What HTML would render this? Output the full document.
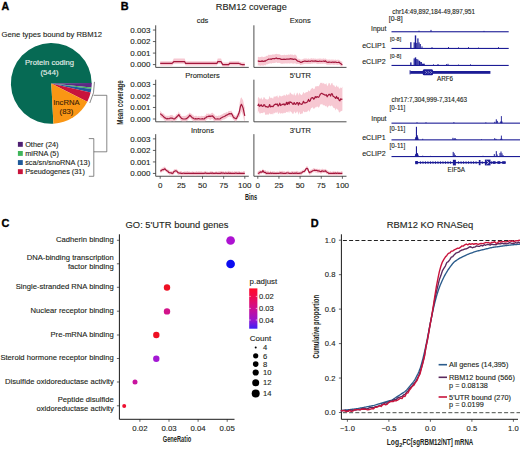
<!DOCTYPE html>
<html><head><meta charset="utf-8"><style>
html,body{margin:0;padding:0;background:#fff;width:520px;height:449px;overflow:hidden}
svg{display:block;font-family:"Liberation Sans", sans-serif}
</style></head><body>
<svg width="520" height="449" viewBox="0 0 520 449">
<rect width="520" height="449" fill="#fff"/>
<text x="1.50" y="9.80" font-size="10.6" text-anchor="start" fill="#000" font-weight="bold" stroke="#000" stroke-width="0.35">A</text>
<text x="1.60" y="36.80" font-size="7.66" text-anchor="start" fill="#231f20" font-weight="normal" stroke="#231f20" stroke-width="0.12" >Gene types bound by RBM12</text>
<path d="M51.3,83.4 L53.41,123.74 A40.4,40.4 0 1 1 91.70,83.40 Z" fill="#066a54"/>
<path d="M51.3,83.4 L91.70,83.05 A40.4,40.4 0 0 1 91.48,87.62 Z" fill="#5c2a84"/>
<path d="M51.3,83.4 L91.48,87.62 A40.4,40.4 0 0 1 91.31,89.02 Z" fill="#3fb55a"/>
<path d="M51.3,83.4 L91.31,89.02 A40.4,40.4 0 0 1 90.66,92.49 Z" fill="#1f5a9a"/>
<path d="M51.3,83.4 L90.66,92.49 A40.4,40.4 0 0 1 87.30,101.74 Z" fill="#c8143c"/>
<path d="M51.3,83.4 L87.30,101.74 A40.4,40.4 0 0 1 53.41,123.74 Z" fill="#fa9614"/>
<text x="49.50" y="65.00" font-size="7.67" text-anchor="middle" fill="#e8f0ec" font-weight="normal" stroke="#e8f0ec" stroke-width="0.12" >Protein coding</text>
<text x="49.50" y="75.00" font-size="7.67" text-anchor="middle" fill="#e8f0ec" font-weight="normal" stroke="#e8f0ec" stroke-width="0.12" >(544)</text>
<text x="66.60" y="104.80" font-size="7.67" text-anchor="middle" fill="#3b2208" font-weight="normal" stroke="#3b2208" stroke-width="0.12" >lncRNA</text>
<text x="66.40" y="114.40" font-size="7.67" text-anchor="middle" fill="#3b2208" font-weight="normal" stroke="#3b2208" stroke-width="0.12" >(83)</text>
<path d="M94.47,81.89 A43.199999999999996,43.199999999999996 0 0 1 89.79,103.01" fill="none" stroke="#555" stroke-width="0.7"/>
<path d="M93.6,95.3 H106.8 V151.8 H93.8" fill="none" stroke="#555" stroke-width="0.7"/>
<path d="M88.8,138.6 H93.8 V176.3 H88.8" fill="none" stroke="#555" stroke-width="0.7"/>
<rect x="17.9" y="141.90" width="4.9" height="4.9" fill="#4e1f72"/>
<text x="25.20" y="146.90" font-size="7.3" text-anchor="start" fill="#231f20" font-weight="normal" stroke="#231f20" stroke-width="0.12" >Other (24)</text>
<rect x="17.9" y="151.00" width="4.9" height="4.9" fill="#3fb55a"/>
<text x="25.20" y="156.00" font-size="7.3" text-anchor="start" fill="#231f20" font-weight="normal" stroke="#231f20" stroke-width="0.12" >miRNA (5)</text>
<rect x="17.9" y="160.10" width="4.9" height="4.9" fill="#1f5a9a"/>
<text x="25.20" y="165.10" font-size="7.3" text-anchor="start" fill="#231f20" font-weight="normal" stroke="#231f20" stroke-width="0.12" >sca/sn/snoRNA (13)</text>
<rect x="17.9" y="169.20" width="4.9" height="4.9" fill="#c8143c"/>
<text x="25.20" y="174.20" font-size="7.3" text-anchor="start" fill="#231f20" font-weight="normal" stroke="#231f20" stroke-width="0.12" >Pseudogenes (31)</text>
<text x="120.80" y="10.20" font-size="10.9" text-anchor="start" fill="#000" font-weight="bold" stroke="#000" stroke-width="0.35">B</text>
<text x="251.30" y="9.90" font-size="9.2" text-anchor="middle" fill="#231f20" font-weight="normal" stroke="#231f20" stroke-width="0.12" >RBM12 coverage</text>
<text x="202.50" y="22.80" font-size="7.5" text-anchor="middle" fill="#231f20" font-weight="normal" stroke="#231f20" stroke-width="0.12" >cds</text>
<path d="M155.7,25.299999999999997 V67.39999999999999 H248.8" fill="none" stroke="#3a3a3a" stroke-width="0.9"/>
<path d="M152.89999999999998,64.60 H155.7" stroke="#3a3a3a" stroke-width="0.8"/>
<text x="150.40" y="67.45" font-size="8.0" text-anchor="end" fill="#231f20" font-weight="normal" stroke="#231f20" stroke-width="0.12" >0.000</text>
<path d="M152.89999999999998,53.08 H155.7" stroke="#3a3a3a" stroke-width="0.8"/>
<text x="150.40" y="55.93" font-size="8.0" text-anchor="end" fill="#231f20" font-weight="normal" stroke="#231f20" stroke-width="0.12" >0.001</text>
<path d="M152.89999999999998,41.56 H155.7" stroke="#3a3a3a" stroke-width="0.8"/>
<text x="150.40" y="44.41" font-size="8.0" text-anchor="end" fill="#231f20" font-weight="normal" stroke="#231f20" stroke-width="0.12" >0.002</text>
<path d="M152.89999999999998,30.04 H155.7" stroke="#3a3a3a" stroke-width="0.8"/>
<text x="150.40" y="32.89" font-size="8.0" text-anchor="end" fill="#231f20" font-weight="normal" stroke="#231f20" stroke-width="0.12" >0.003</text>
<text x="300.30" y="22.80" font-size="7.5" text-anchor="middle" fill="#231f20" font-weight="normal" stroke="#231f20" stroke-width="0.12" >Exons</text>
<path d="M253.9,25.299999999999997 V67.39999999999999 H346.5" fill="none" stroke="#3a3a3a" stroke-width="0.9"/>
<text x="202.50" y="78.00" font-size="7.5" text-anchor="middle" fill="#231f20" font-weight="normal" stroke="#231f20" stroke-width="0.12" >Promoters</text>
<path d="M155.7,79.7 V121.8 H248.8" fill="none" stroke="#3a3a3a" stroke-width="0.9"/>
<path d="M152.89999999999998,119.00 H155.7" stroke="#3a3a3a" stroke-width="0.8"/>
<text x="150.40" y="121.85" font-size="8.0" text-anchor="end" fill="#231f20" font-weight="normal" stroke="#231f20" stroke-width="0.12" >0.000</text>
<path d="M152.89999999999998,107.48 H155.7" stroke="#3a3a3a" stroke-width="0.8"/>
<text x="150.40" y="110.33" font-size="8.0" text-anchor="end" fill="#231f20" font-weight="normal" stroke="#231f20" stroke-width="0.12" >0.001</text>
<path d="M152.89999999999998,95.96 H155.7" stroke="#3a3a3a" stroke-width="0.8"/>
<text x="150.40" y="98.81" font-size="8.0" text-anchor="end" fill="#231f20" font-weight="normal" stroke="#231f20" stroke-width="0.12" >0.002</text>
<path d="M152.89999999999998,84.44 H155.7" stroke="#3a3a3a" stroke-width="0.8"/>
<text x="150.40" y="87.29" font-size="8.0" text-anchor="end" fill="#231f20" font-weight="normal" stroke="#231f20" stroke-width="0.12" >0.003</text>
<text x="300.30" y="78.00" font-size="7.5" text-anchor="middle" fill="#231f20" font-weight="normal" stroke="#231f20" stroke-width="0.12" >5’UTR</text>
<path d="M253.9,79.7 V121.8 H346.5" fill="none" stroke="#3a3a3a" stroke-width="0.9"/>
<text x="202.50" y="133.20" font-size="7.5" text-anchor="middle" fill="#231f20" font-weight="normal" stroke="#231f20" stroke-width="0.12" >Introns</text>
<path d="M155.7,134.14999999999998 V176.25 H248.8" fill="none" stroke="#3a3a3a" stroke-width="0.9"/>
<path d="M152.89999999999998,173.45 H155.7" stroke="#3a3a3a" stroke-width="0.8"/>
<text x="150.40" y="176.30" font-size="8.0" text-anchor="end" fill="#231f20" font-weight="normal" stroke="#231f20" stroke-width="0.12" >0.000</text>
<path d="M152.89999999999998,161.93 H155.7" stroke="#3a3a3a" stroke-width="0.8"/>
<text x="150.40" y="164.78" font-size="8.0" text-anchor="end" fill="#231f20" font-weight="normal" stroke="#231f20" stroke-width="0.12" >0.001</text>
<path d="M152.89999999999998,150.41 H155.7" stroke="#3a3a3a" stroke-width="0.8"/>
<text x="150.40" y="153.26" font-size="8.0" text-anchor="end" fill="#231f20" font-weight="normal" stroke="#231f20" stroke-width="0.12" >0.002</text>
<path d="M152.89999999999998,138.89 H155.7" stroke="#3a3a3a" stroke-width="0.8"/>
<text x="150.40" y="141.74" font-size="8.0" text-anchor="end" fill="#231f20" font-weight="normal" stroke="#231f20" stroke-width="0.12" >0.003</text>
<path d="M160.20,176.25 V178.75" stroke="#3a3a3a" stroke-width="0.8"/>
<text x="160.20" y="188.00" font-size="8.0" text-anchor="middle" fill="#231f20" font-weight="normal" stroke="#231f20" stroke-width="0.12" >0</text>
<path d="M181.35,176.25 V178.75" stroke="#3a3a3a" stroke-width="0.8"/>
<text x="181.35" y="188.00" font-size="8.0" text-anchor="middle" fill="#231f20" font-weight="normal" stroke="#231f20" stroke-width="0.12" >25</text>
<path d="M202.50,176.25 V178.75" stroke="#3a3a3a" stroke-width="0.8"/>
<text x="202.50" y="188.00" font-size="8.0" text-anchor="middle" fill="#231f20" font-weight="normal" stroke="#231f20" stroke-width="0.12" >50</text>
<path d="M223.65,176.25 V178.75" stroke="#3a3a3a" stroke-width="0.8"/>
<text x="223.65" y="188.00" font-size="8.0" text-anchor="middle" fill="#231f20" font-weight="normal" stroke="#231f20" stroke-width="0.12" >75</text>
<path d="M244.80,176.25 V178.75" stroke="#3a3a3a" stroke-width="0.8"/>
<text x="244.80" y="188.00" font-size="8.0" text-anchor="middle" fill="#231f20" font-weight="normal" stroke="#231f20" stroke-width="0.12" >100</text>
<text x="300.30" y="133.20" font-size="7.5" text-anchor="middle" fill="#231f20" font-weight="normal" stroke="#231f20" stroke-width="0.12" >3’UTR</text>
<path d="M253.9,134.14999999999998 V176.25 H346.5" fill="none" stroke="#3a3a3a" stroke-width="0.9"/>
<path d="M257.80,176.25 V178.75" stroke="#3a3a3a" stroke-width="0.8"/>
<text x="257.80" y="188.00" font-size="8.0" text-anchor="middle" fill="#231f20" font-weight="normal" stroke="#231f20" stroke-width="0.12" >0</text>
<path d="M278.95,176.25 V178.75" stroke="#3a3a3a" stroke-width="0.8"/>
<text x="278.95" y="188.00" font-size="8.0" text-anchor="middle" fill="#231f20" font-weight="normal" stroke="#231f20" stroke-width="0.12" >25</text>
<path d="M300.10,176.25 V178.75" stroke="#3a3a3a" stroke-width="0.8"/>
<text x="300.10" y="188.00" font-size="8.0" text-anchor="middle" fill="#231f20" font-weight="normal" stroke="#231f20" stroke-width="0.12" >50</text>
<path d="M321.25,176.25 V178.75" stroke="#3a3a3a" stroke-width="0.8"/>
<text x="321.25" y="188.00" font-size="8.0" text-anchor="middle" fill="#231f20" font-weight="normal" stroke="#231f20" stroke-width="0.12" >75</text>
<path d="M342.40,176.25 V178.75" stroke="#3a3a3a" stroke-width="0.8"/>
<text x="342.40" y="188.00" font-size="8.0" text-anchor="middle" fill="#231f20" font-weight="normal" stroke="#231f20" stroke-width="0.12" >100</text>
<text transform="translate(122.7,102.5) rotate(-90)" font-size="9.0" font-weight="bold" text-anchor="middle" fill="#231f20" textLength="44.5" lengthAdjust="spacingAndGlyphs">Mean coverage</text>
<text transform="translate(251.0,199.6)" font-size="9.0" font-weight="bold" text-anchor="middle" fill="#231f20" textLength="12.2" lengthAdjust="spacingAndGlyphs">Bins</text>
<polygon points="160.20,61.37 161.05,61.37 161.89,61.37 162.74,61.37 163.58,61.37 164.43,61.37 165.28,61.37 166.12,61.37 166.97,61.37 167.81,61.37 168.66,61.37 169.51,61.37 170.35,61.37 171.20,61.37 172.04,61.37 172.89,60.51 173.74,58.49 174.58,58.49 175.43,58.49 176.27,58.49 177.12,58.49 177.97,58.49 178.81,58.49 179.66,58.49 180.50,58.49 181.35,58.49 182.20,58.49 183.04,58.49 183.89,58.49 184.73,58.49 185.58,61.37 186.43,61.37 187.27,61.37 188.12,61.37 188.96,61.37 189.81,61.37 190.66,61.37 191.50,61.37 192.35,61.37 193.19,61.37 194.04,61.37 194.89,61.37 195.73,61.37 196.58,61.37 197.42,61.37 198.27,61.37 199.12,61.37 199.96,61.37 200.81,61.37 201.65,61.37 202.50,61.37 203.35,61.37 204.19,61.37 205.04,61.37 205.88,61.37 206.73,61.37 207.58,61.37 208.42,61.37 209.27,61.37 210.11,61.37 210.96,61.37 211.81,61.37 212.65,61.37 213.50,61.37 214.34,61.37 215.19,61.37 216.04,61.37 216.88,61.37 217.73,58.49 218.57,58.49 219.42,58.49 220.27,58.49 221.11,58.49 221.96,61.37 222.80,62.53 223.65,62.53 224.50,62.53 225.34,62.53 226.19,62.53 227.03,62.53 227.88,62.53 228.73,62.53 229.57,61.37 230.42,61.37 231.26,61.37 232.11,61.37 232.96,61.37 233.80,61.37 234.65,61.37 235.49,61.37 236.34,61.37 237.19,61.37 238.03,61.37 238.88,61.37 239.72,61.72 240.57,62.07 241.42,62.41 242.26,62.53 243.11,62.53 243.95,62.53 244.80,62.53 244.80,66.67 243.95,66.67 243.11,66.67 242.26,66.67 241.42,66.56 240.57,66.21 239.72,65.87 238.88,65.52 238.03,65.52 237.19,65.52 236.34,65.52 235.49,65.52 234.65,65.52 233.80,65.52 232.96,65.52 232.11,65.52 231.26,65.52 230.42,65.52 229.57,65.52 228.73,66.67 227.88,66.67 227.03,66.67 226.19,66.67 225.34,66.67 224.50,66.67 223.65,66.67 222.80,66.67 221.96,65.52 221.11,63.79 220.27,63.79 219.42,63.79 218.57,63.79 217.73,63.79 216.88,65.52 216.04,65.52 215.19,65.52 214.34,65.52 213.50,65.52 212.65,65.52 211.81,65.52 210.96,65.52 210.11,65.52 209.27,65.52 208.42,65.52 207.58,65.52 206.73,65.52 205.88,65.52 205.04,65.52 204.19,65.52 203.35,65.52 202.50,65.52 201.65,65.52 200.81,65.52 199.96,65.52 199.12,65.52 198.27,65.52 197.42,65.52 196.58,65.52 195.73,65.52 194.89,65.52 194.04,65.52 193.19,65.52 192.35,65.52 191.50,65.52 190.66,65.52 189.81,65.52 188.96,65.52 188.12,65.52 187.27,65.52 186.43,65.52 185.58,65.52 184.73,63.79 183.89,63.79 183.04,63.79 182.20,63.79 181.35,63.79 180.50,63.79 179.66,63.79 178.81,63.79 177.97,63.79 177.12,63.79 176.27,63.79 175.43,63.79 174.58,63.79 173.74,63.79 172.89,64.66 172.04,65.52 171.20,65.52 170.35,65.52 169.51,65.52 168.66,65.52 167.81,65.52 166.97,65.52 166.12,65.52 165.28,65.52 164.43,65.52 163.58,65.52 162.74,65.52 161.89,65.52 161.05,65.52 160.20,65.52" fill="#f7c8d2"/>
<polyline points="160.20,63.45 161.05,63.45 161.89,63.45 162.74,63.45 163.58,63.45 164.43,63.45 165.28,63.45 166.12,63.45 166.97,63.45 167.81,63.45 168.66,63.45 169.51,63.45 170.35,63.45 171.20,63.45 172.04,63.45 172.89,62.58 173.74,61.72 174.58,61.72 175.43,61.72 176.27,61.72 177.12,61.72 177.97,61.72 178.81,61.72 179.66,61.72 180.50,61.72 181.35,61.72 182.20,61.72 183.04,61.72 183.89,61.72 184.73,61.72 185.58,63.45 186.43,63.45 187.27,63.45 188.12,63.45 188.96,63.45 189.81,63.45 190.66,63.45 191.50,63.45 192.35,63.45 193.19,63.45 194.04,63.45 194.89,63.45 195.73,63.45 196.58,63.45 197.42,63.45 198.27,63.45 199.12,63.45 199.96,63.45 200.81,63.45 201.65,63.45 202.50,63.45 203.35,63.45 204.19,63.45 205.04,63.45 205.88,63.45 206.73,63.45 207.58,63.45 208.42,63.45 209.27,63.45 210.11,63.45 210.96,63.45 211.81,63.45 212.65,63.45 213.50,63.45 214.34,63.45 215.19,63.45 216.04,63.45 216.88,63.45 217.73,61.72 218.57,61.72 219.42,61.72 220.27,61.72 221.11,61.72 221.96,63.45 222.80,64.60 223.65,64.60 224.50,64.60 225.34,64.60 226.19,64.60 227.03,64.60 227.88,64.60 228.73,64.60 229.57,63.45 230.42,63.45 231.26,63.45 232.11,63.45 232.96,63.45 233.80,63.45 234.65,63.45 235.49,63.45 236.34,63.45 237.19,63.45 238.03,63.45 238.88,63.45 239.72,63.79 240.57,64.14 241.42,64.48 242.26,64.60 243.11,64.60 243.95,64.60 244.80,64.60" fill="none" stroke="#a3173c" stroke-width="1.2" stroke-linejoin="round"/>
<polygon points="257.80,57.25 258.65,56.77 259.49,57.32 260.34,56.99 261.18,56.89 262.03,56.33 262.88,57.19 263.72,56.94 264.57,56.70 265.41,56.78 266.26,55.76 267.11,55.91 267.95,55.44 268.80,54.59 269.64,55.03 270.49,54.72 271.34,54.99 272.18,54.30 273.03,54.73 273.87,54.27 274.72,54.51 275.57,53.91 276.41,53.81 277.26,54.34 278.10,54.09 278.95,54.39 279.80,54.27 280.64,55.06 281.49,55.16 282.33,55.03 283.18,55.24 284.03,54.63 284.87,54.79 285.72,55.20 286.56,54.63 287.41,54.91 288.26,54.56 289.10,54.73 289.95,54.64 290.79,54.17 291.64,54.66 292.49,54.42 293.33,55.22 294.18,54.65 295.02,54.57 295.87,54.88 296.72,55.93 297.56,58.79 298.41,58.69 299.25,58.82 300.10,59.36 300.95,59.65 301.79,59.49 302.64,59.22 303.48,58.84 304.33,58.52 305.18,58.59 306.02,58.54 306.87,58.62 307.71,58.98 308.56,58.24 309.41,58.89 310.25,58.83 311.10,58.29 311.94,58.18 312.79,58.66 313.64,58.33 314.48,58.64 315.33,58.42 316.17,58.68 317.02,58.96 317.87,58.62 318.71,58.74 319.56,58.54 320.40,58.50 321.25,58.86 322.10,58.78 322.94,58.74 323.79,58.15 324.63,59.06 325.48,58.21 326.33,59.29 327.17,59.48 328.02,59.81 328.86,59.57 329.71,59.54 330.56,59.64 331.40,59.56 332.25,59.64 333.09,59.26 333.94,60.00 334.79,59.67 335.63,59.62 336.48,59.95 337.32,59.73 338.17,59.76 339.02,59.74 339.86,60.53 340.71,60.97 341.55,61.62 342.40,61.83 342.40,66.90 341.55,66.76 340.71,65.88 339.86,65.26 339.02,64.55 338.17,65.02 337.32,64.89 336.48,64.74 335.63,64.39 334.79,64.70 333.94,64.75 333.09,64.80 332.25,64.57 331.40,64.61 330.56,64.69 329.71,64.72 328.86,64.67 328.02,64.84 327.17,64.74 326.33,64.45 325.48,63.63 324.63,63.80 323.79,63.49 322.94,64.01 322.10,63.81 321.25,63.85 320.40,63.90 319.56,63.71 318.71,64.09 317.87,64.05 317.02,63.90 316.17,63.48 315.33,63.32 314.48,63.55 313.64,63.33 312.79,63.65 311.94,63.41 311.10,63.75 310.25,63.88 309.41,64.07 308.56,63.93 307.71,64.12 306.87,63.81 306.02,64.09 305.18,63.71 304.33,64.02 303.48,64.17 302.64,64.42 301.79,64.51 300.95,65.05 300.10,64.88 299.25,63.82 298.41,64.12 297.56,63.77 296.72,64.35 295.87,63.46 295.02,63.40 294.18,63.18 293.33,63.79 292.49,63.40 291.64,63.17 290.79,63.14 289.95,63.42 289.10,63.56 288.26,63.33 287.41,63.56 286.56,63.52 285.72,63.34 284.87,63.68 284.03,63.31 283.18,63.63 282.33,63.78 281.49,63.66 280.64,63.58 279.80,63.09 278.95,62.69 278.10,63.12 277.26,63.09 276.41,62.27 275.57,62.75 274.72,63.00 273.87,62.93 273.03,63.36 272.18,63.12 271.34,63.72 270.49,63.30 269.64,63.49 268.80,63.68 267.95,64.07 267.11,64.48 266.26,64.26 265.41,65.54 264.57,65.08 263.72,65.62 262.88,65.73 262.03,65.22 261.18,65.56 260.34,65.69 259.49,65.58 258.65,65.33 257.80,65.85" fill="#f7c8d2"/>
<polyline points="257.80,61.39 258.65,60.95 259.49,61.46 260.34,61.43 261.18,61.42 262.03,60.88 262.88,61.37 263.72,61.47 264.57,60.91 265.41,61.06 266.26,60.22 267.11,59.99 267.95,59.53 268.80,59.10 269.64,59.23 270.49,58.95 271.34,59.35 272.18,58.72 273.03,58.77 273.87,58.50 274.72,58.79 275.57,58.22 276.41,57.96 277.26,58.71 278.10,58.67 278.95,58.65 279.80,58.61 280.64,59.16 281.49,59.35 282.33,59.44 283.18,59.34 284.03,59.17 284.87,59.35 285.72,59.29 286.56,59.20 287.41,59.16 288.26,59.04 289.10,59.20 289.95,58.84 290.79,58.60 291.64,59.06 292.49,58.92 293.33,59.40 294.18,59.12 295.02,59.16 295.87,59.30 296.72,60.27 297.56,61.16 298.41,61.28 299.25,61.33 300.10,62.08 300.95,62.34 301.79,62.12 302.64,61.62 303.48,61.52 304.33,61.18 305.18,60.99 306.02,61.36 306.87,61.30 307.71,61.35 308.56,61.08 309.41,61.27 310.25,61.33 311.10,61.01 311.94,60.83 312.79,61.29 313.64,61.00 314.48,61.20 315.33,60.90 316.17,61.09 317.02,61.30 317.87,61.34 318.71,61.47 319.56,61.16 320.40,61.23 321.25,61.37 322.10,61.24 322.94,61.27 323.79,60.95 324.63,61.39 325.48,60.80 326.33,61.73 327.17,62.23 328.02,62.32 328.86,62.06 329.71,62.07 330.56,62.26 331.40,62.31 332.25,62.14 333.09,62.05 333.94,62.36 334.79,62.13 335.63,61.98 336.48,62.32 337.32,62.48 338.17,62.48 339.02,62.15 339.86,62.94 340.71,63.51 341.55,64.36 342.40,64.60" fill="none" stroke="#a3173c" stroke-width="1.2" stroke-linejoin="round"/>
<polygon points="160.20,110.49 161.05,111.85 161.89,112.64 162.74,113.42 163.58,113.51 164.43,114.60 165.28,115.60 166.12,115.93 166.97,115.58 167.81,115.89 168.66,115.78 169.51,115.80 170.35,114.89 171.20,115.08 172.04,114.84 172.89,115.61 173.74,116.45 174.58,116.49 175.43,115.64 176.27,114.29 177.12,113.95 177.97,113.47 178.81,111.25 179.66,113.58 180.50,113.82 181.35,115.75 182.20,115.94 183.04,116.35 183.89,115.74 184.73,115.99 185.58,115.83 186.43,115.49 187.27,114.62 188.12,114.62 188.96,113.30 189.81,112.43 190.66,113.57 191.50,113.63 192.35,114.71 193.19,114.84 194.04,116.18 194.89,116.07 195.73,115.83 196.58,115.86 197.42,116.40 198.27,116.01 199.12,115.83 199.96,116.61 200.81,116.06 201.65,115.78 202.50,115.90 203.35,115.95 204.19,116.00 205.04,115.44 205.88,115.02 206.73,113.32 207.58,114.04 208.42,113.61 209.27,113.75 210.11,114.04 210.96,113.62 211.81,112.66 212.65,112.75 213.50,113.73 214.34,114.31 215.19,115.99 216.04,115.62 216.88,116.08 217.73,116.02 218.57,115.60 219.42,115.66 220.27,115.37 221.11,115.06 221.96,114.35 222.80,114.24 223.65,113.32 224.50,112.88 225.34,113.37 226.19,111.79 227.03,112.67 227.88,112.00 228.73,110.79 229.57,111.05 230.42,110.90 231.26,110.38 232.11,112.19 232.96,113.05 233.80,114.96 234.65,115.17 235.49,115.95 236.34,115.57 237.19,113.75 238.03,112.64 238.88,110.91 239.72,102.59 240.57,98.55 241.42,97.28 242.26,98.94 243.11,100.33 243.95,104.41 244.80,107.80 244.80,121.30 243.95,120.15 243.11,116.07 242.26,113.53 241.42,111.62 240.57,113.62 239.72,116.88 238.88,116.68 238.03,118.40 237.19,119.55 236.34,121.30 235.49,121.30 234.65,120.94 233.80,119.93 232.96,119.22 232.11,117.92 231.26,116.68 230.42,117.09 229.57,116.47 228.73,116.83 227.88,117.08 227.03,117.67 226.19,118.58 225.34,118.84 224.50,119.47 223.65,119.60 222.80,119.72 221.96,120.32 221.11,120.86 220.27,121.30 219.42,121.30 218.57,121.30 217.73,121.30 216.88,121.30 216.04,121.30 215.19,121.30 214.34,120.99 213.50,120.42 212.65,118.96 211.81,118.88 210.96,119.47 210.11,119.93 209.27,119.20 208.42,118.73 207.58,119.23 206.73,119.40 205.88,120.67 205.04,121.25 204.19,121.30 203.35,121.30 202.50,121.30 201.65,121.30 200.81,121.30 199.96,121.30 199.12,121.30 198.27,121.30 197.42,121.30 196.58,121.30 195.73,121.03 194.89,121.30 194.04,121.30 193.19,121.30 192.35,120.28 191.50,119.56 190.66,118.41 189.81,118.18 188.96,118.66 188.12,120.02 187.27,120.73 186.43,120.99 185.58,121.30 184.73,121.30 183.89,121.30 183.04,121.30 182.20,121.30 181.35,120.99 180.50,120.35 179.66,118.65 178.81,117.03 177.97,118.29 177.12,119.30 176.27,120.46 175.43,120.49 174.58,121.30 173.74,121.30 172.89,121.11 172.04,120.70 171.20,121.30 170.35,121.30 169.51,121.30 168.66,121.30 167.81,121.30 166.97,121.30 166.12,121.30 165.28,120.82 164.43,120.42 163.58,119.22 162.74,118.39 161.89,117.74 161.05,117.75 160.20,116.98" fill="#f7c8d2"/>
<polyline points="160.20,113.54 161.05,114.43 161.89,115.00 162.74,115.90 163.58,116.56 164.43,117.58 165.28,117.91 166.12,118.50 166.97,119.00 167.81,118.45 168.66,118.73 169.51,118.59 170.35,118.10 171.20,118.08 172.04,118.05 172.89,118.53 173.74,118.97 174.58,119.00 175.43,118.04 176.27,117.54 177.12,116.38 177.97,115.80 178.81,114.67 179.66,116.11 180.50,117.16 181.35,118.15 182.20,118.78 183.04,118.91 183.89,119.00 184.73,119.00 185.58,118.87 186.43,118.68 187.27,117.93 188.12,117.33 188.96,116.30 189.81,115.25 190.66,116.00 191.50,116.90 192.35,117.70 193.19,118.09 194.04,118.72 194.89,119.00 195.73,118.67 196.58,119.00 197.42,118.79 198.27,118.71 199.12,118.70 199.96,119.00 200.81,119.00 201.65,118.93 202.50,118.69 203.35,119.00 204.19,119.00 205.04,117.99 205.88,117.73 206.73,116.77 207.58,116.73 208.42,116.41 209.27,116.15 210.11,116.59 210.96,116.12 211.81,116.04 212.65,115.89 213.50,117.04 214.34,117.75 215.19,119.00 216.04,119.00 216.88,119.00 217.73,118.81 218.57,119.00 219.42,119.00 220.27,118.77 221.11,117.93 221.96,117.54 222.80,117.01 223.65,116.77 224.50,116.24 225.34,116.01 226.19,115.17 227.03,115.18 227.88,114.41 228.73,113.93 229.57,113.69 230.42,113.81 231.26,113.42 232.11,114.54 232.96,116.21 233.80,117.59 234.65,117.97 235.49,118.65 236.34,118.73 237.19,116.92 238.03,115.27 238.88,113.33 239.72,109.85 240.57,105.94 241.42,104.29 242.26,106.03 243.11,108.12 243.95,112.13 244.80,115.83" fill="none" stroke="#a3173c" stroke-width="1.2" stroke-linejoin="round"/>
<polygon points="257.80,98.50 258.65,96.84 259.49,98.54 260.34,99.21 261.18,97.28 262.03,98.93 262.88,99.64 263.72,97.04 264.57,97.61 265.41,99.09 266.26,99.18 267.11,99.42 267.95,99.61 268.80,98.70 269.64,95.86 270.49,98.27 271.34,97.82 272.18,97.79 273.03,98.91 273.87,96.32 274.72,96.78 275.57,96.61 276.41,96.37 277.26,95.29 278.10,98.05 278.95,96.60 279.80,95.19 280.64,96.31 281.49,96.49 282.33,95.69 283.18,96.03 284.03,94.50 284.87,95.53 285.72,95.64 286.56,93.63 287.41,95.42 288.26,94.10 289.10,95.33 289.95,92.19 290.79,93.03 291.64,94.18 292.49,94.27 293.33,95.40 294.18,92.49 295.02,95.23 295.87,95.53 296.72,93.27 297.56,92.61 298.41,95.75 299.25,92.54 300.10,94.06 300.95,94.69 301.79,95.17 302.64,93.64 303.48,91.78 304.33,93.39 305.18,92.93 306.02,92.11 306.87,92.27 307.71,92.01 308.56,89.94 309.41,91.60 310.25,90.47 311.10,88.84 311.94,88.39 312.79,87.63 313.64,89.33 314.48,89.08 315.33,86.16 316.17,86.39 317.02,86.06 317.87,86.17 318.71,86.20 319.56,84.66 320.40,82.80 321.25,82.90 322.10,82.45 322.94,84.05 323.79,82.87 324.63,84.34 325.48,84.25 326.33,83.05 327.17,86.18 328.02,85.02 328.86,82.75 329.71,83.13 330.56,85.63 331.40,83.33 332.25,82.87 333.09,85.85 333.94,84.69 334.79,86.51 335.63,87.30 336.48,85.07 337.32,86.96 338.17,86.16 339.02,88.25 339.86,88.81 340.71,87.17 341.55,88.31 342.40,86.57 342.40,110.46 341.55,111.10 340.71,111.35 339.86,112.16 339.02,112.56 338.17,109.74 337.32,109.57 336.48,108.17 335.63,110.48 334.79,108.35 333.94,108.09 333.09,107.59 332.25,105.74 331.40,105.42 330.56,106.47 329.71,105.44 328.86,105.67 328.02,106.70 327.17,107.84 326.33,105.41 325.48,106.42 324.63,105.25 323.79,105.30 322.94,105.18 322.10,103.68 321.25,104.45 320.40,104.29 319.56,106.49 318.71,107.70 317.87,107.04 317.02,106.30 316.17,107.60 315.33,107.23 314.48,108.43 313.64,109.01 312.79,107.15 311.94,107.77 311.10,108.25 310.25,110.02 309.41,111.98 308.56,109.99 307.71,111.04 306.87,112.16 306.02,111.61 305.18,112.21 304.33,112.14 303.48,110.80 302.64,113.65 301.79,113.36 300.95,114.31 300.10,113.99 299.25,111.60 298.41,115.09 297.56,111.48 296.72,111.67 295.87,113.46 295.02,112.70 294.18,111.17 293.33,113.88 292.49,113.68 291.64,112.22 290.79,111.97 289.95,110.44 289.10,113.22 288.26,111.13 287.41,112.61 286.56,111.76 285.72,112.78 284.87,113.21 284.03,112.46 283.18,113.53 282.33,113.56 281.49,113.01 280.64,114.07 279.80,112.23 278.95,113.50 278.10,113.93 277.26,111.49 276.41,112.92 275.57,112.33 274.72,113.38 273.87,112.48 273.03,114.84 272.18,113.62 271.34,114.13 270.49,114.29 269.64,113.05 268.80,114.62 267.95,114.73 267.11,114.23 266.26,114.85 265.41,115.01 264.57,112.30 263.72,112.23 262.88,113.13 262.03,112.94 261.18,112.96 260.34,113.62 259.49,113.48 258.65,110.65 257.80,113.55" fill="#f7c8d2"/>
<polyline points="257.80,106.02 258.65,104.13 259.49,106.29 260.34,105.84 261.18,104.73 262.03,106.26 262.88,106.50 263.72,104.74 264.57,104.87 265.41,106.72 266.26,106.63 267.11,106.82 267.95,107.12 268.80,106.67 269.64,104.54 270.49,106.92 271.34,106.38 272.18,106.35 273.03,106.57 273.87,105.22 274.72,104.50 275.57,104.13 276.41,104.58 277.26,103.95 278.10,106.08 278.95,105.20 279.80,103.21 280.64,105.56 281.49,104.90 282.33,104.19 283.18,104.67 284.03,103.78 284.87,105.05 285.72,104.41 286.56,102.30 287.41,104.43 288.26,102.21 289.10,104.11 289.95,101.74 290.79,102.50 291.64,102.47 292.49,103.98 293.33,104.33 294.18,102.50 295.02,104.23 295.87,104.31 296.72,102.67 297.56,102.64 298.41,105.04 299.25,102.63 300.10,103.93 300.95,104.00 301.79,104.42 302.64,103.29 303.48,101.29 304.33,102.90 305.18,102.97 306.02,102.59 306.87,102.29 307.71,101.32 308.56,99.42 309.41,101.39 310.25,100.73 311.10,98.32 311.94,97.81 312.79,97.51 313.64,99.20 314.48,98.55 315.33,96.56 316.17,97.50 317.02,96.55 317.87,97.05 318.71,97.28 319.56,95.81 320.40,94.12 321.25,93.45 322.10,93.47 322.94,94.14 323.79,94.32 324.63,94.97 325.48,95.10 326.33,94.66 327.17,96.79 328.02,95.51 328.86,94.38 329.71,94.42 330.56,96.08 331.40,93.72 332.25,93.87 333.09,96.30 333.94,96.61 334.79,97.36 335.63,98.35 336.48,96.37 337.32,98.51 338.17,97.62 339.02,100.10 339.86,100.76 340.71,98.78 341.55,99.37 342.40,99.21" fill="none" stroke="#a3173c" stroke-width="1.2" stroke-linejoin="round"/>
<polygon points="160.20,168.78 161.05,169.24 161.89,167.70 162.74,167.70 163.58,167.27 164.43,166.45 165.28,166.91 166.12,168.44 166.97,169.44 167.81,169.16 168.66,170.12 169.51,170.15 170.35,171.16 171.20,171.22 172.04,170.94 172.89,170.96 173.74,169.77 174.58,169.00 175.43,169.24 176.27,168.83 177.12,169.41 177.97,170.60 178.81,171.32 179.66,171.52 180.50,171.06 181.35,171.05 182.20,171.91 183.04,171.85 183.89,171.70 184.73,171.16 185.58,171.62 186.43,171.47 187.27,170.92 188.12,171.14 188.96,171.69 189.81,171.26 190.66,172.07 191.50,171.68 192.35,171.26 193.19,171.61 194.04,172.03 194.89,171.47 195.73,171.69 196.58,170.95 197.42,171.86 198.27,171.14 199.12,171.62 199.96,171.14 200.81,171.55 201.65,171.29 202.50,171.69 203.35,171.81 204.19,171.50 205.04,170.66 205.88,171.25 206.73,171.78 207.58,171.59 208.42,171.96 209.27,171.70 210.11,171.41 210.96,170.93 211.81,171.38 212.65,171.22 213.50,172.04 214.34,172.04 215.19,171.68 216.04,171.31 216.88,171.41 217.73,171.68 218.57,171.18 219.42,171.37 220.27,171.30 221.11,170.66 221.96,171.13 222.80,171.31 223.65,171.25 224.50,172.00 225.34,170.92 226.19,171.20 227.03,171.95 227.88,171.00 228.73,170.85 229.57,171.35 230.42,171.26 231.26,171.92 232.11,170.72 232.96,171.87 233.80,171.64 234.65,170.92 235.49,171.50 236.34,171.21 237.19,171.51 238.03,171.57 238.88,171.00 239.72,171.24 240.57,172.05 241.42,171.47 242.26,171.96 243.11,171.25 243.95,171.07 244.80,171.02 244.80,175.75 243.95,175.08 243.11,175.00 242.26,175.23 241.42,175.75 240.57,175.75 239.72,174.82 238.88,175.75 238.03,175.30 237.19,174.97 236.34,175.59 235.49,175.30 234.65,174.99 233.80,175.75 232.96,175.65 232.11,175.56 231.26,175.75 230.42,174.75 229.57,175.75 228.73,175.11 227.88,175.58 227.03,175.29 226.19,174.77 225.34,175.10 224.50,175.41 223.65,174.80 222.80,175.11 221.96,175.38 221.11,174.39 220.27,175.67 219.42,175.57 218.57,175.52 217.73,174.98 216.88,175.10 216.04,174.55 215.19,175.15 214.34,175.67 213.50,175.25 212.65,175.18 211.81,175.68 210.96,174.37 210.11,175.33 209.27,175.22 208.42,175.48 207.58,175.75 206.73,175.11 205.88,174.99 205.04,174.55 204.19,174.90 203.35,175.04 202.50,175.11 201.65,175.53 200.81,175.51 199.96,175.11 199.12,174.90 198.27,175.22 197.42,174.98 196.58,175.38 195.73,175.75 194.89,175.69 194.04,175.58 193.19,174.99 192.35,175.13 191.50,175.32 190.66,175.13 189.81,175.68 188.96,175.11 188.12,174.64 187.27,175.53 186.43,175.29 185.58,175.28 184.73,175.48 183.89,175.38 183.04,175.11 182.20,175.75 181.35,175.61 180.50,174.63 179.66,174.45 178.81,175.38 177.97,174.65 177.12,173.73 176.27,172.32 175.43,172.91 174.58,173.20 173.74,173.98 172.89,175.19 172.04,175.69 171.20,174.27 170.35,174.38 169.51,175.09 168.66,173.79 167.81,173.68 166.97,172.35 166.12,172.35 165.28,170.66 164.43,170.54 163.58,171.48 162.74,171.59 161.89,171.69 161.05,173.03 160.20,172.33" fill="#f7c8d2"/>
<polyline points="160.20,170.90 161.05,170.87 161.89,169.96 162.74,169.67 163.58,169.75 164.43,168.81 165.28,169.13 166.12,170.25 166.97,170.87 167.81,171.19 168.66,172.36 169.51,172.59 170.35,172.78 171.20,172.79 172.04,173.45 172.89,173.20 173.74,171.71 174.58,171.23 175.43,170.80 176.27,170.84 177.12,171.57 177.97,172.68 178.81,172.89 179.66,173.06 180.50,173.16 181.35,173.45 182.20,173.45 183.04,173.24 183.89,173.18 184.73,173.45 185.58,173.45 186.43,173.37 187.27,173.45 188.12,173.22 188.96,173.38 189.81,173.45 190.66,173.45 191.50,173.39 192.35,173.45 193.19,173.19 194.04,173.45 194.89,173.45 195.73,173.45 196.58,173.45 197.42,173.36 198.27,173.45 199.12,173.45 199.96,173.45 200.81,173.45 201.65,173.44 202.50,173.45 203.35,173.45 204.19,173.41 205.04,172.96 205.88,173.03 206.73,173.43 207.58,173.45 208.42,173.45 209.27,173.45 210.11,173.45 210.96,172.94 211.81,173.45 212.65,172.93 213.50,173.45 214.34,173.45 215.19,173.45 216.04,172.92 216.88,173.45 217.73,173.37 218.57,173.44 219.42,173.45 220.27,173.45 221.11,172.89 221.96,173.12 222.80,173.18 223.65,172.99 224.50,173.45 225.34,173.22 226.19,173.16 227.03,173.45 227.88,173.45 228.73,172.90 229.57,173.45 230.42,173.15 231.26,173.45 232.11,173.26 232.96,173.45 233.80,173.44 234.65,173.45 235.49,173.02 236.34,173.17 237.19,173.45 238.03,173.23 238.88,173.45 239.72,173.10 240.57,173.45 241.42,173.40 242.26,173.35 243.11,173.45 243.95,173.45 244.80,173.45" fill="none" stroke="#a3173c" stroke-width="1.2" stroke-linejoin="round"/>
<polygon points="257.80,171.09 258.65,170.89 259.49,170.24 260.34,170.36 261.18,170.38 262.03,170.58 262.88,168.38 263.72,170.03 264.57,170.19 265.41,170.03 266.26,170.92 267.11,171.29 267.95,170.61 268.80,171.44 269.64,171.97 270.49,170.54 271.34,171.96 272.18,171.51 273.03,171.11 273.87,171.74 274.72,171.30 275.57,171.99 276.41,171.76 277.26,171.24 278.10,172.02 278.95,171.48 279.80,170.60 280.64,171.32 281.49,170.96 282.33,170.84 283.18,171.35 284.03,171.18 284.87,171.26 285.72,172.05 286.56,171.31 287.41,170.98 288.26,170.47 289.10,171.75 289.95,171.39 290.79,171.92 291.64,171.09 292.49,171.09 293.33,171.47 294.18,171.30 295.02,171.40 295.87,171.23 296.72,170.66 297.56,171.08 298.41,171.55 299.25,171.80 300.10,171.42 300.95,170.69 301.79,170.82 302.64,170.06 303.48,169.52 304.33,169.25 305.18,168.68 306.02,166.99 306.87,165.97 307.71,166.52 308.56,169.22 309.41,171.21 310.25,169.66 311.10,169.75 311.94,169.29 312.79,168.86 313.64,168.00 314.48,168.31 315.33,168.83 316.17,168.97 317.02,168.58 317.87,168.91 318.71,169.04 319.56,168.69 320.40,169.45 321.25,169.62 322.10,168.60 322.94,169.09 323.79,169.19 324.63,169.18 325.48,168.76 326.33,169.80 327.17,169.89 328.02,171.08 328.86,171.16 329.71,171.67 330.56,171.09 331.40,171.98 332.25,171.51 333.09,171.56 333.94,171.00 334.79,171.83 335.63,171.21 336.48,171.91 337.32,171.00 338.17,171.40 339.02,171.73 339.86,171.86 340.71,171.84 341.55,170.92 342.40,171.15 342.40,175.19 341.55,175.02 340.71,175.28 339.86,175.71 339.02,175.63 338.17,175.75 337.32,175.36 336.48,175.02 335.63,175.30 334.79,175.75 333.94,175.26 333.09,175.75 332.25,175.75 331.40,175.38 330.56,175.49 329.71,175.01 328.86,175.39 328.02,174.81 327.17,173.61 326.33,174.15 325.48,172.39 324.63,173.22 323.79,173.07 322.94,172.98 322.10,173.07 321.25,173.77 320.40,173.55 319.56,172.96 318.71,173.02 317.87,173.44 317.02,172.60 316.17,172.87 315.33,172.62 314.48,172.06 313.64,172.29 312.79,172.40 311.94,172.79 311.10,174.33 310.25,174.29 309.41,174.94 308.56,173.34 307.71,170.64 306.87,170.48 306.02,170.25 305.18,172.73 304.33,173.02 303.48,173.02 302.64,173.62 301.79,174.40 300.95,175.61 300.10,175.08 299.25,175.64 298.41,175.72 297.56,175.75 296.72,175.41 295.87,174.90 295.02,175.13 294.18,175.33 293.33,175.00 292.49,175.03 291.64,175.75 290.79,175.75 289.95,175.12 289.10,175.10 288.26,174.52 287.41,175.51 286.56,174.56 285.72,175.70 284.87,174.90 284.03,175.56 283.18,175.65 282.33,174.74 281.49,175.21 280.64,175.31 279.80,174.55 278.95,175.01 278.10,174.87 277.26,174.84 276.41,175.16 275.57,175.40 274.72,175.25 273.87,175.47 273.03,174.91 272.18,174.77 271.34,175.43 270.49,175.32 269.64,175.40 268.80,175.51 267.95,175.11 267.11,175.17 266.26,175.20 265.41,174.62 264.57,173.86 263.72,173.88 262.88,172.52 262.03,173.47 261.18,174.35 260.34,174.12 259.49,174.89 258.65,174.99 257.80,175.48" fill="#f7c8d2"/>
<polyline points="257.80,173.45 258.65,173.28 259.49,172.75 260.34,171.80 261.18,172.20 262.03,172.08 262.88,170.63 263.72,171.93 264.57,172.43 265.41,172.33 266.26,173.45 267.11,173.45 267.95,173.00 268.80,173.45 269.64,173.45 270.49,172.95 271.34,173.45 272.18,172.99 273.03,173.45 273.87,173.45 274.72,173.45 275.57,173.40 276.41,173.38 277.26,173.45 278.10,173.44 278.95,173.45 279.80,173.06 280.64,172.95 281.49,173.16 282.33,173.08 283.18,173.45 284.03,173.45 284.87,173.45 285.72,173.45 286.56,172.91 287.41,172.98 288.26,172.97 289.10,173.38 289.95,173.45 290.79,173.45 291.64,173.45 292.49,172.98 293.33,173.45 294.18,173.45 295.02,172.94 295.87,173.45 296.72,172.96 297.56,173.45 298.41,173.26 299.25,173.45 300.10,172.99 300.95,173.11 301.79,172.71 302.64,171.89 303.48,171.50 304.33,171.43 305.18,170.43 306.02,168.76 306.87,168.24 307.71,168.80 308.56,170.94 309.41,172.68 310.25,172.11 311.10,171.97 311.94,171.36 312.79,170.71 313.64,170.49 314.48,170.18 315.33,170.47 316.17,170.47 317.02,170.36 317.87,170.99 318.71,170.84 319.56,171.17 320.40,171.58 321.25,171.53 322.10,170.75 322.94,171.17 323.79,171.28 324.63,171.13 325.48,170.75 326.33,171.75 327.17,172.23 328.02,172.68 328.86,173.45 329.71,173.40 330.56,173.45 331.40,173.45 332.25,173.45 333.09,173.45 333.94,173.20 334.79,173.45 335.63,172.90 336.48,173.45 337.32,173.03 338.17,173.45 339.02,173.11 339.86,173.45 340.71,173.45 341.55,173.40 342.40,173.06" fill="none" stroke="#a3173c" stroke-width="1.2" stroke-linejoin="round"/>
<text x="392.30" y="13.60" font-size="6.3" text-anchor="start" fill="#231f20" font-weight="normal" stroke="#231f20" stroke-width="0.12" >chr14:49,892,184-49,897,951</text>
<text x="388.80" y="21.30" font-size="6.9" text-anchor="start" fill="#231f20" font-weight="normal" stroke="#231f20" stroke-width="0.12" >[0-8]</text>
<text x="386.30" y="30.50" font-size="6.85" text-anchor="end" fill="#231f20" font-weight="normal" stroke="#231f20" stroke-width="0.12" >Input</text>
<rect x="391.5" y="31.20" width="117.19999999999999" height="1.1" fill="#1c1c96"/>
<rect x="418.50" y="30.70" width="1" height="1.00" fill="#1c1c96"/>
<rect x="430.50" y="29.90" width="1" height="1.80" fill="#1c1c96"/>
<rect x="483.50" y="30.90" width="1" height="0.80" fill="#1c1c96"/>
<text x="390.00" y="41.20" font-size="5.6" text-anchor="start" fill="#231f20" font-weight="normal" stroke="#231f20" stroke-width="0.12" >[0-8]</text>
<text x="385.70" y="47.90" font-size="7.05" text-anchor="end" fill="#231f20" font-weight="normal" stroke="#231f20" stroke-width="0.12" >eCLIP1</text>
<rect x="391.5" y="47.90" width="117.19999999999999" height="1.1" fill="#1c1c96"/>
<rect x="410.20" y="42.20" width="1.3" height="6.20" fill="#1c1c96"/>
<rect x="413.60" y="42.40" width="1.2" height="6.00" fill="#1c1c96"/>
<rect x="414.80" y="35.40" width="1.4" height="13.00" fill="#1c1c96"/>
<rect x="416.20" y="42.90" width="1.1" height="5.50" fill="#1c1c96"/>
<rect x="417.30" y="38.40" width="1.2" height="10.00" fill="#1c1c96"/>
<rect x="418.50" y="42.40" width="1.1" height="6.00" fill="#1c1c96"/>
<rect x="419.60" y="44.00" width="1.2" height="4.40" fill="#1c1c96"/>
<rect x="421.50" y="46.40" width="1" height="2.00" fill="#1c1c96"/>
<rect x="431.50" y="47.20" width="1" height="1.20" fill="#1c1c96"/>
<rect x="448.00" y="47.10" width="1" height="1.30" fill="#1c1c96"/>
<rect x="458.00" y="47.40" width="1" height="1.00" fill="#1c1c96"/>
<rect x="468.00" y="47.20" width="1" height="1.20" fill="#1c1c96"/>
<rect x="478.00" y="47.60" width="1" height="0.80" fill="#1c1c96"/>
<rect x="498.00" y="47.20" width="1" height="1.20" fill="#1c1c96"/>
<text x="390.00" y="58.00" font-size="5.6" text-anchor="start" fill="#231f20" font-weight="normal" stroke="#231f20" stroke-width="0.12" >[0-8]</text>
<text x="385.70" y="63.90" font-size="7.05" text-anchor="end" fill="#231f20" font-weight="normal" stroke="#231f20" stroke-width="0.12" >eCLIP2</text>
<rect x="391.5" y="64.90" width="117.19999999999999" height="1.1" fill="#1c1c96"/>
<rect x="410.20" y="62.40" width="1.3" height="3.00" fill="#1c1c96"/>
<rect x="413.60" y="58.40" width="1.2" height="7.00" fill="#1c1c96"/>
<rect x="414.80" y="57.40" width="1.4" height="8.00" fill="#1c1c96"/>
<rect x="416.20" y="59.00" width="1.2" height="6.40" fill="#1c1c96"/>
<rect x="417.30" y="59.60" width="1.2" height="5.80" fill="#1c1c96"/>
<rect x="418.50" y="60.80" width="1.7" height="4.60" fill="#1c1c96"/>
<rect x="420.20" y="62.00" width="1.7" height="3.40" fill="#1c1c96"/>
<rect x="421.90" y="63.70" width="2.9" height="1.70" fill="#1c1c96"/>
<rect x="433.00" y="64.40" width="1" height="1.00" fill="#1c1c96"/>
<rect x="437.50" y="64.00" width="1" height="1.40" fill="#1c1c96"/>
<rect x="446.00" y="64.20" width="1" height="1.20" fill="#1c1c96"/>
<rect x="447.50" y="63.80" width="1" height="1.60" fill="#1c1c96"/>
<rect x="458.00" y="64.60" width="1" height="0.80" fill="#1c1c96"/>
<rect x="470.00" y="64.40" width="1" height="1.00" fill="#1c1c96"/>
<rect x="409.6" y="70.2" width="0.9" height="4.2" fill="#1c1c96"/>
<rect x="410.2" y="71.0" width="80.2" height="2.8" fill="#1c1c96"/>
<rect x="422.7" y="69.3" width="10.4" height="6.0" rx="1.5" fill="#1c1c96"/>
<path d="M425.5,71.3 l1.1,1.1 l-1.1,1.1" fill="none" stroke="#fff" stroke-width="0.6"/>
<path d="M428.0,71.3 l1.1,1.1 l-1.1,1.1" fill="none" stroke="#fff" stroke-width="0.6"/>
<path d="M430.5,71.3 l1.1,1.1 l-1.1,1.1" fill="none" stroke="#fff" stroke-width="0.6"/>
<text x="445.00" y="81.00" font-size="6.3" text-anchor="middle" fill="#231f20" font-weight="normal" stroke="#231f20" stroke-width="0.12" >ARF6</text>
<text x="391.50" y="101.50" font-size="6.3" text-anchor="start" fill="#231f20" font-weight="normal" stroke="#231f20" stroke-width="0.12" >chr17:7,304,999-7,314,463</text>
<text x="389.60" y="109.80" font-size="6.3" text-anchor="start" fill="#231f20" font-weight="normal" stroke="#231f20" stroke-width="0.12" >[0-11]</text>
<text x="386.50" y="121.40" font-size="6.85" text-anchor="end" fill="#231f20" font-weight="normal" stroke="#231f20" stroke-width="0.12" >Input</text>
<rect x="391.5" y="122.60" width="128.5" height="1.1" fill="#1c1c96"/>
<rect x="416.50" y="122.30" width="1" height="0.80" fill="#1c1c96"/>
<rect x="425.50" y="122.30" width="1" height="0.80" fill="#1c1c96"/>
<rect x="453.00" y="122.50" width="1.6" height="0.60" fill="#1c1c96"/>
<rect x="485.00" y="122.60" width="1.5" height="0.50" fill="#1c1c96"/>
<rect x="494.30" y="121.80" width="1" height="1.30" fill="#1c1c96"/>
<rect x="495.80" y="119.30" width="1" height="3.80" fill="#1c1c96"/>
<rect x="496.80" y="120.90" width="1" height="2.20" fill="#1c1c96"/>
<rect x="500.90" y="116.10" width="0.9" height="7.00" fill="#1c1c96"/>
<rect x="500.20" y="121.50" width="2.3" height="1.60" fill="#1c1c96"/>
<text x="389.60" y="131.00" font-size="6.3" text-anchor="start" fill="#231f20" font-weight="normal" stroke="#231f20" stroke-width="0.12" >[0-11]</text>
<text x="385.70" y="139.50" font-size="7.05" text-anchor="end" fill="#231f20" font-weight="normal" stroke="#231f20" stroke-width="0.12" >eCLIP1</text>
<rect x="391.5" y="139.30" width="128.5" height="1.1" fill="#1c1c96"/>
<rect x="415.90" y="126.80" width="1.1" height="13.00" fill="#1c1c96"/>
<rect x="415.20" y="137.20" width="3.0" height="2.60" fill="#1c1c96"/>
<rect x="414.90" y="138.60" width="3.8" height="1.20" fill="#1c1c96"/>
<rect x="417.00" y="135.30" width="0.8" height="4.50" fill="#1c1c96"/>
<rect x="422.20" y="138.80" width="1" height="1.00" fill="#1c1c96"/>
<rect x="452.40" y="137.80" width="1" height="2.00" fill="#1c1c96"/>
<rect x="453.60" y="138.40" width="1" height="1.40" fill="#1c1c96"/>
<rect x="454.60" y="138.00" width="1" height="1.80" fill="#1c1c96"/>
<rect x="455.60" y="139.00" width="0.8" height="0.80" fill="#1c1c96"/>
<rect x="481.00" y="139.20" width="1" height="0.60" fill="#1c1c96"/>
<rect x="494.20" y="138.20" width="1" height="1.60" fill="#1c1c96"/>
<rect x="495.40" y="138.90" width="1.2" height="0.90" fill="#1c1c96"/>
<rect x="500.90" y="135.60" width="0.9" height="4.20" fill="#1c1c96"/>
<rect x="500.20" y="138.80" width="2.2" height="1.00" fill="#1c1c96"/>
<text x="389.60" y="148.20" font-size="6.3" text-anchor="start" fill="#231f20" font-weight="normal" stroke="#231f20" stroke-width="0.12" >[0-11]</text>
<text x="385.70" y="155.60" font-size="7.05" text-anchor="end" fill="#231f20" font-weight="normal" stroke="#231f20" stroke-width="0.12" >eCLIP2</text>
<rect x="391.5" y="156.00" width="128.5" height="1.1" fill="#1c1c96"/>
<rect x="415.90" y="146.30" width="1.1" height="10.20" fill="#1c1c96"/>
<rect x="415.20" y="153.90" width="3.0" height="2.60" fill="#1c1c96"/>
<rect x="414.90" y="155.30" width="3.8" height="1.20" fill="#1c1c96"/>
<rect x="417.00" y="153.00" width="0.8" height="3.50" fill="#1c1c96"/>
<rect x="422.20" y="155.70" width="1" height="0.80" fill="#1c1c96"/>
<rect x="430.00" y="155.90" width="1" height="0.60" fill="#1c1c96"/>
<rect x="452.70" y="151.90" width="1" height="4.60" fill="#1c1c96"/>
<rect x="453.70" y="153.30" width="1" height="3.20" fill="#1c1c96"/>
<rect x="454.70" y="155.00" width="1" height="1.50" fill="#1c1c96"/>
<rect x="482.50" y="155.80" width="1" height="0.70" fill="#1c1c96"/>
<rect x="493.80" y="154.10" width="1" height="2.40" fill="#1c1c96"/>
<rect x="495.80" y="151.10" width="1" height="5.40" fill="#1c1c96"/>
<rect x="496.80" y="154.50" width="0.8" height="2.00" fill="#1c1c96"/>
<rect x="499.50" y="153.00" width="1" height="3.50" fill="#1c1c96"/>
<rect x="500.50" y="151.50" width="1" height="5.00" fill="#1c1c96"/>
<rect x="501.50" y="153.30" width="1" height="3.20" fill="#1c1c96"/>
<rect x="502.50" y="155.00" width="1" height="1.50" fill="#1c1c96"/>
<rect x="415.4" y="161.95" width="90.2" height="1.3" fill="#1c1c96"/>
<rect x="415.2" y="161.0" width="2.70" height="3.20" fill="#1c1c96"/>
<rect x="452.9" y="159.8" width="3.00" height="5.60" fill="#1c1c96"/>
<rect x="478.8" y="160.0" width="1.70" height="5.20" fill="#1c1c96"/>
<rect x="484.9" y="159.6" width="5.60" height="5.80" fill="#1c1c96"/>
<rect x="492.7" y="161.2" width="2.90" height="2.70" fill="#1c1c96"/>
<rect x="497.4" y="161.2" width="2.90" height="2.70" fill="#1c1c96"/>
<rect x="502.2" y="161.2" width="3.40" height="2.70" fill="#1c1c96"/>
<path d="M486.6,160.9 l2.2,1.7 l-2.2,1.7" fill="none" stroke="#fff" stroke-width="0.8"/>
<path d="M420.2,161.2 l1.0,1.4 l-1.0,1.4" fill="none" stroke="#1c1c96" stroke-width="0.8"/>
<path d="M422.7,161.2 l1.0,1.4 l-1.0,1.4" fill="none" stroke="#1c1c96" stroke-width="0.8"/>
<path d="M425.2,161.2 l1.0,1.4 l-1.0,1.4" fill="none" stroke="#1c1c96" stroke-width="0.8"/>
<path d="M427.7,161.2 l1.0,1.4 l-1.0,1.4" fill="none" stroke="#1c1c96" stroke-width="0.8"/>
<path d="M430.2,161.2 l1.0,1.4 l-1.0,1.4" fill="none" stroke="#1c1c96" stroke-width="0.8"/>
<path d="M432.7,161.2 l1.0,1.4 l-1.0,1.4" fill="none" stroke="#1c1c96" stroke-width="0.8"/>
<path d="M435.2,161.2 l1.0,1.4 l-1.0,1.4" fill="none" stroke="#1c1c96" stroke-width="0.8"/>
<path d="M437.7,161.2 l1.0,1.4 l-1.0,1.4" fill="none" stroke="#1c1c96" stroke-width="0.8"/>
<path d="M440.2,161.2 l1.0,1.4 l-1.0,1.4" fill="none" stroke="#1c1c96" stroke-width="0.8"/>
<path d="M442.7,161.2 l1.0,1.4 l-1.0,1.4" fill="none" stroke="#1c1c96" stroke-width="0.8"/>
<path d="M445.2,161.2 l1.0,1.4 l-1.0,1.4" fill="none" stroke="#1c1c96" stroke-width="0.8"/>
<path d="M447.7,161.2 l1.0,1.4 l-1.0,1.4" fill="none" stroke="#1c1c96" stroke-width="0.8"/>
<path d="M450.2,161.2 l1.0,1.4 l-1.0,1.4" fill="none" stroke="#1c1c96" stroke-width="0.8"/>
<path d="M458.3,161.2 l1.0,1.4 l-1.0,1.4" fill="none" stroke="#1c1c96" stroke-width="0.8"/>
<path d="M460.8,161.2 l1.0,1.4 l-1.0,1.4" fill="none" stroke="#1c1c96" stroke-width="0.8"/>
<path d="M463.3,161.2 l1.0,1.4 l-1.0,1.4" fill="none" stroke="#1c1c96" stroke-width="0.8"/>
<path d="M465.8,161.2 l1.0,1.4 l-1.0,1.4" fill="none" stroke="#1c1c96" stroke-width="0.8"/>
<path d="M468.3,161.2 l1.0,1.4 l-1.0,1.4" fill="none" stroke="#1c1c96" stroke-width="0.8"/>
<path d="M470.8,161.2 l1.0,1.4 l-1.0,1.4" fill="none" stroke="#1c1c96" stroke-width="0.8"/>
<path d="M473.3,161.2 l1.0,1.4 l-1.0,1.4" fill="none" stroke="#1c1c96" stroke-width="0.8"/>
<path d="M475.8,161.2 l1.0,1.4 l-1.0,1.4" fill="none" stroke="#1c1c96" stroke-width="0.8"/>
<path d="M482.0,161.2 l1.0,1.4 l-1.0,1.4" fill="none" stroke="#1c1c96" stroke-width="0.8"/>
<path d="M491.2,161.2 l1.0,1.4 l-1.0,1.4" fill="none" stroke="#1c1c96" stroke-width="0.8"/>
<text x="456.20" y="171.60" font-size="6.3" text-anchor="middle" fill="#231f20" font-weight="normal" stroke="#231f20" stroke-width="0.12" >EIF5A</text>
<text x="1.60" y="227.20" font-size="10.9" text-anchor="start" fill="#000" font-weight="bold" stroke="#000" stroke-width="0.35">C</text>
<text x="177.00" y="228.30" font-size="9.4" text-anchor="middle" fill="#231f20" font-weight="normal" stroke="#231f20" stroke-width="0.12" >GO: 5'UTR bound genes</text>
<path d="M119.4,234.3 V419.3 H234.5" fill="none" stroke="#1a1a1a" stroke-width="1.0"/>
<path d="M116.9,240.3 H119.4" stroke="#222" stroke-width="0.7"/>
<text x="113.80" y="242.10" font-size="7.65" text-anchor="end" fill="#231f20" font-weight="normal" stroke="#231f20" stroke-width="0.12" >Cadherin binding</text>
<path d="M116.9,263.8 H119.4" stroke="#222" stroke-width="0.7"/>
<text x="113.80" y="259.70" font-size="7.65" text-anchor="end" fill="#231f20" font-weight="normal" stroke="#231f20" stroke-width="0.12" >DNA-binding transcription</text>
<text x="113.80" y="269.45" font-size="7.65" text-anchor="end" fill="#231f20" font-weight="normal" stroke="#231f20" stroke-width="0.12" >factor binding</text>
<path d="M116.9,287.3 H119.4" stroke="#222" stroke-width="0.7"/>
<text x="113.80" y="289.10" font-size="7.65" text-anchor="end" fill="#231f20" font-weight="normal" stroke="#231f20" stroke-width="0.12" >Single-stranded RNA binding</text>
<path d="M116.9,311.2 H119.4" stroke="#222" stroke-width="0.7"/>
<text x="113.80" y="313.00" font-size="7.65" text-anchor="end" fill="#231f20" font-weight="normal" stroke="#231f20" stroke-width="0.12" >Nuclear receptor binding</text>
<path d="M116.9,335.0 H119.4" stroke="#222" stroke-width="0.7"/>
<text x="113.80" y="336.80" font-size="7.65" text-anchor="end" fill="#231f20" font-weight="normal" stroke="#231f20" stroke-width="0.12" >Pre-mRNA binding</text>
<path d="M116.9,358.5 H119.4" stroke="#222" stroke-width="0.7"/>
<text x="113.80" y="360.30" font-size="7.65" text-anchor="end" fill="#231f20" font-weight="normal" stroke="#231f20" stroke-width="0.12" >Steroid hormone receptor binding</text>
<path d="M116.9,382.0 H119.4" stroke="#222" stroke-width="0.7"/>
<text x="113.80" y="383.80" font-size="7.65" text-anchor="end" fill="#231f20" font-weight="normal" stroke="#231f20" stroke-width="0.12" >Disulfide oxidoreductase activity</text>
<path d="M116.9,405.8 H119.4" stroke="#222" stroke-width="0.7"/>
<text x="113.80" y="401.70" font-size="7.65" text-anchor="end" fill="#231f20" font-weight="normal" stroke="#231f20" stroke-width="0.12" >Peptide disulfide</text>
<text x="113.80" y="411.45" font-size="7.65" text-anchor="end" fill="#231f20" font-weight="normal" stroke="#231f20" stroke-width="0.12" >oxidoreductase activity</text>
<path d="M139.90,419.3 V421.8" stroke="#222" stroke-width="0.7"/>
<text x="139.90" y="430.50" font-size="7.8" text-anchor="middle" fill="#231f20" font-weight="normal" stroke="#231f20" stroke-width="0.12" >0.02</text>
<path d="M169.00,419.3 V421.8" stroke="#222" stroke-width="0.7"/>
<text x="169.00" y="430.50" font-size="7.8" text-anchor="middle" fill="#231f20" font-weight="normal" stroke="#231f20" stroke-width="0.12" >0.03</text>
<path d="M198.10,419.3 V421.8" stroke="#222" stroke-width="0.7"/>
<text x="198.10" y="430.50" font-size="7.8" text-anchor="middle" fill="#231f20" font-weight="normal" stroke="#231f20" stroke-width="0.12" >0.04</text>
<path d="M227.20,419.3 V421.8" stroke="#222" stroke-width="0.7"/>
<text x="227.20" y="430.50" font-size="7.8" text-anchor="middle" fill="#231f20" font-weight="normal" stroke="#231f20" stroke-width="0.12" >0.05</text>
<text transform="translate(177.0,441.9)" font-size="9.0" font-weight="bold" text-anchor="middle" fill="#231f20" textLength="28.5" lengthAdjust="spacingAndGlyphs">GeneRatio</text>
<circle cx="230.6" cy="240.5" r="4.35" fill="#ad12d2"/>
<circle cx="230.6" cy="264.0" r="4.35" fill="#0c0cf0"/>
<circle cx="167.0" cy="287.5" r="3.2" fill="#ee1023"/>
<circle cx="167.0" cy="311.4" r="3.2" fill="#d2138a"/>
<circle cx="156.3" cy="335.0" r="3.2" fill="#ee1023"/>
<circle cx="156.3" cy="358.7" r="3.2" fill="#a418d4"/>
<circle cx="135.0" cy="382.0" r="2.5" fill="#c8139f"/>
<circle cx="124.2" cy="406.0" r="2.0" fill="#ee1030"/>
<text x="249.60" y="284.30" font-size="7.9" text-anchor="start" fill="#231f20" font-weight="normal" stroke="#231f20" stroke-width="0.12" >p.adjust</text>
<defs><linearGradient id="pg" x1="0" y1="0" x2="0" y2="1"><stop offset="0" stop-color="#ff0a28"/><stop offset="0.18" stop-color="#f20a48"/><stop offset="0.5" stop-color="#cc0f92"/><stop offset="0.78" stop-color="#9a14cc"/><stop offset="1" stop-color="#3c1ef5"/></linearGradient></defs>
<rect x="249.2" y="288.4" width="8.2" height="40.3" fill="url(#pg)"/>
<path d="M249.2,296.4 h1.6 M255.8,296.4 h1.6" stroke="#fff" stroke-width="0.6"/>
<text x="259.00" y="299.10" font-size="7.6" text-anchor="start" fill="#231f20" font-weight="normal" stroke="#231f20" stroke-width="0.12" >0.02</text>
<path d="M249.2,308.4 h1.6 M255.8,308.4 h1.6" stroke="#fff" stroke-width="0.6"/>
<text x="259.00" y="311.10" font-size="7.6" text-anchor="start" fill="#231f20" font-weight="normal" stroke="#231f20" stroke-width="0.12" >0.03</text>
<path d="M249.2,320.0 h1.6 M255.8,320.0 h1.6" stroke="#fff" stroke-width="0.6"/>
<text x="259.00" y="322.70" font-size="7.6" text-anchor="start" fill="#231f20" font-weight="normal" stroke="#231f20" stroke-width="0.12" >0.04</text>
<text x="249.80" y="341.00" font-size="8.0" text-anchor="start" fill="#231f20" font-weight="normal" stroke="#231f20" stroke-width="0.12" >Count</text>
<circle cx="255.7" cy="347.6" r="1.0" fill="#000"/>
<text x="263.10" y="350.30" font-size="7.6" text-anchor="start" fill="#231f20" font-weight="normal" stroke="#231f20" stroke-width="0.12" >4</text>
<circle cx="255.7" cy="355.8" r="2.6" fill="#000"/>
<text x="263.10" y="358.50" font-size="7.6" text-anchor="start" fill="#231f20" font-weight="normal" stroke="#231f20" stroke-width="0.12" >6</text>
<circle cx="255.7" cy="364.1" r="2.8" fill="#000"/>
<text x="263.10" y="366.80" font-size="7.6" text-anchor="start" fill="#231f20" font-weight="normal" stroke="#231f20" stroke-width="0.12" >8</text>
<circle cx="255.7" cy="372.5" r="3.1" fill="#000"/>
<text x="263.10" y="375.20" font-size="7.6" text-anchor="start" fill="#231f20" font-weight="normal" stroke="#231f20" stroke-width="0.12" >10</text>
<circle cx="255.7" cy="382.7" r="3.5" fill="#000"/>
<text x="263.10" y="385.40" font-size="7.6" text-anchor="start" fill="#231f20" font-weight="normal" stroke="#231f20" stroke-width="0.12" >12</text>
<circle cx="255.7" cy="393.6" r="4.0" fill="#000"/>
<text x="263.10" y="396.30" font-size="7.6" text-anchor="start" fill="#231f20" font-weight="normal" stroke="#231f20" stroke-width="0.12" >14</text>
<text x="310.80" y="227.10" font-size="10.9" text-anchor="start" fill="#000" font-weight="bold" stroke="#000" stroke-width="0.35">D</text>
<text x="430.00" y="228.00" font-size="9.4" text-anchor="middle" fill="#231f20" font-weight="normal" stroke="#231f20" stroke-width="0.12" >RBM12 KO RNASeq</text>
<path d="M341.4,234.3 V419.3 H518" fill="none" stroke="#1a1a1a" stroke-width="1.0"/>
<path d="M342.9,240.5 H520" stroke="#222" stroke-width="1.0" stroke-dasharray="4,2.2"/>
<path d="M342.9,412.7 H520" stroke="#4a4f4a" stroke-width="1.0" stroke-dasharray="4,2.2"/>
<path d="M338.9,412.50 H341.4" stroke="#222" stroke-width="0.7"/>
<text x="335.40" y="415.20" font-size="7.6" text-anchor="end" fill="#231f20" font-weight="normal" stroke="#231f20" stroke-width="0.12" >0.0</text>
<path d="M338.9,378.04 H341.4" stroke="#222" stroke-width="0.7"/>
<text x="335.40" y="380.74" font-size="7.6" text-anchor="end" fill="#231f20" font-weight="normal" stroke="#231f20" stroke-width="0.12" >0.2</text>
<path d="M338.9,343.58 H341.4" stroke="#222" stroke-width="0.7"/>
<text x="335.40" y="346.28" font-size="7.6" text-anchor="end" fill="#231f20" font-weight="normal" stroke="#231f20" stroke-width="0.12" >0.4</text>
<path d="M338.9,309.12 H341.4" stroke="#222" stroke-width="0.7"/>
<text x="335.40" y="311.82" font-size="7.6" text-anchor="end" fill="#231f20" font-weight="normal" stroke="#231f20" stroke-width="0.12" >0.6</text>
<path d="M338.9,274.66 H341.4" stroke="#222" stroke-width="0.7"/>
<text x="335.40" y="277.36" font-size="7.6" text-anchor="end" fill="#231f20" font-weight="normal" stroke="#231f20" stroke-width="0.12" >0.8</text>
<path d="M338.9,240.20 H341.4" stroke="#222" stroke-width="0.7"/>
<text x="335.40" y="242.90" font-size="7.6" text-anchor="end" fill="#231f20" font-weight="normal" stroke="#231f20" stroke-width="0.12" >1.0</text>
<path d="M347.40,419.3 V421.8" stroke="#222" stroke-width="0.7"/>
<text x="347.40" y="431.40" font-size="7.6" text-anchor="middle" fill="#231f20" font-weight="normal" stroke="#231f20" stroke-width="0.12" >−1.0</text>
<path d="M388.90,419.3 V421.8" stroke="#222" stroke-width="0.7"/>
<text x="388.90" y="431.40" font-size="7.6" text-anchor="middle" fill="#231f20" font-weight="normal" stroke="#231f20" stroke-width="0.12" >−0.5</text>
<path d="M430.40,419.3 V421.8" stroke="#222" stroke-width="0.7"/>
<text x="430.40" y="431.40" font-size="7.6" text-anchor="middle" fill="#231f20" font-weight="normal" stroke="#231f20" stroke-width="0.12" >0.0</text>
<path d="M471.90,419.3 V421.8" stroke="#222" stroke-width="0.7"/>
<text x="471.90" y="431.40" font-size="7.6" text-anchor="middle" fill="#231f20" font-weight="normal" stroke="#231f20" stroke-width="0.12" >0.5</text>
<path d="M513.40,419.3 V421.8" stroke="#222" stroke-width="0.7"/>
<text x="513.40" y="431.40" font-size="7.6" text-anchor="middle" fill="#231f20" font-weight="normal" stroke="#231f20" stroke-width="0.12" >1.0</text>
<text transform="translate(319.2,326.7) rotate(-90)" font-size="9.0" font-weight="bold" text-anchor="middle" fill="#231f20" textLength="63.4" lengthAdjust="spacingAndGlyphs">Cumulative proportion</text>
<text transform="translate(386.7,445.0)" font-size="9.0" font-weight="bold" text-anchor="start" fill="#231f20" textLength="12.3" lengthAdjust="spacingAndGlyphs">Log</text>
<text x="399.2" y="446.6" font-size="6" font-weight="bold" fill="#231f20" textLength="3.2" lengthAdjust="spacingAndGlyphs">2</text>
<text transform="translate(402.6,445.0)" font-size="9.0" font-weight="bold" text-anchor="start" fill="#231f20" textLength="70.7" lengthAdjust="spacingAndGlyphs">FC[sgRBM12/NT] mRNA</text>
<polyline points="340.76,410.60 341.59,410.51 342.42,410.41 343.25,410.32 344.08,410.22 344.91,410.13 345.74,410.03 346.57,409.94 347.40,409.84 348.23,409.75 349.06,409.65 349.89,409.56 350.72,409.46 351.55,409.37 352.38,409.27 353.21,409.18 354.04,409.08 354.87,408.99 355.70,408.89 356.53,408.78 357.36,408.66 358.19,408.52 359.02,408.36 359.85,408.20 360.68,408.03 361.51,407.87 362.34,407.70 363.17,407.54 364.00,407.37 364.83,407.21 365.66,407.04 366.49,406.88 367.32,406.71 368.15,406.55 368.98,406.38 369.81,406.22 370.64,406.05 371.47,405.89 372.30,405.72 373.13,405.56 373.96,405.38 374.79,405.18 375.62,404.96 376.45,404.72 377.28,404.47 378.11,404.22 378.94,403.97 379.77,403.72 380.60,403.47 381.43,403.23 382.26,402.98 383.09,402.73 383.92,402.48 384.75,402.23 385.58,401.98 386.41,401.73 387.24,401.49 388.07,401.24 388.90,400.99 389.73,400.74 390.56,400.47 391.39,400.17 392.22,399.78 393.05,399.32 393.88,398.80 394.71,398.26 395.54,397.72 396.37,397.18 397.20,396.64 398.03,396.10 398.86,395.56 399.69,395.02 400.52,394.48 401.35,393.94 402.18,393.40 403.01,392.86 403.84,392.32 404.67,391.74 405.50,391.06 406.33,390.26 407.16,389.35 407.99,388.38 408.82,387.39 409.65,386.41 410.48,385.42 411.31,384.44 412.14,383.45 412.97,382.44 413.80,381.34 414.63,380.06 415.46,378.60 416.29,377.02 417.12,375.38 417.95,373.72 418.78,371.94 419.61,369.86 420.44,367.39 421.27,364.61 422.10,361.66 422.93,358.55 423.76,355.18 424.59,351.56 425.42,347.78 426.25,343.89 427.08,339.87 427.91,335.66 428.74,331.33 429.57,326.97 430.40,322.67 431.23,318.53 432.06,314.56 432.89,310.72 433.72,307.00 434.55,303.49 435.38,300.25 436.21,297.23 437.04,294.37 437.87,291.68 438.70,289.21 439.53,286.94 440.36,284.85 441.19,282.89 442.02,281.00 442.85,279.17 443.68,277.45 444.51,275.88 445.34,274.40 446.17,272.97 447.00,271.58 447.83,270.24 448.66,269.00 449.49,267.84 450.32,266.71 451.15,265.60 451.98,264.49 452.81,263.44 453.64,262.52 454.47,261.77 455.30,261.15 456.13,260.58 456.96,260.02 457.79,259.47 458.62,258.92 459.45,258.42 460.28,257.96 461.11,257.54 461.94,257.13 462.77,256.73 463.60,256.33 464.43,255.93 465.26,255.53 466.09,255.13 466.92,254.74 467.75,254.38 468.58,254.04 469.41,253.73 470.24,253.43 471.07,253.13 471.90,252.83 472.73,252.54 473.56,252.24 474.39,251.94 475.22,251.66 476.05,251.40 476.88,251.17 477.71,250.96 478.54,250.76 479.37,250.55 480.20,250.35 481.03,250.15 481.86,249.95 482.69,249.75 483.52,249.55 484.35,249.35 485.18,249.15 486.01,248.95 486.84,248.74 487.67,248.54 488.50,248.34 489.33,248.14 490.16,247.94 490.99,247.74 491.82,247.56 492.65,247.41 493.48,247.27 494.31,247.16 495.14,247.04 495.97,246.93 496.80,246.82 497.63,246.71 498.46,246.60 499.29,246.48 500.12,246.37 500.95,246.26 501.78,246.15 502.61,246.04 503.44,245.92 504.27,245.81 505.10,245.70 505.93,245.59 506.76,245.48 507.59,245.37 508.42,245.26 509.25,245.17 510.08,245.08 510.91,245.01 511.74,244.93 512.57,244.85 513.40,244.78 514.23,244.70 515.06,244.62 515.89,244.55 516.72,244.47 517.55,244.39 518.38,244.32 519.21,244.24 520.04,244.16" fill="none" stroke="#2b5c8c" stroke-width="1.35" stroke-linejoin="round"/>
<polyline points="340.76,411.35 342.25,410.50 343.75,410.66 345.24,410.22 346.74,410.77 348.23,410.75 349.72,409.83 351.22,410.07 352.71,410.37 354.21,410.02 355.70,410.09 357.19,409.67 358.69,409.66 360.18,409.78 361.68,408.60 363.17,408.51 364.66,408.46 366.16,408.90 367.65,408.79 369.15,407.83 370.64,407.48 372.13,407.48 373.63,407.80 375.12,406.74 376.62,406.56 378.11,406.25 379.60,405.42 381.10,405.08 382.59,404.26 384.09,403.58 385.58,402.73 387.07,403.39 388.57,402.22 390.06,401.15 391.56,400.96 393.05,400.42 394.54,399.35 396.04,399.77 397.53,398.00 399.03,397.51 400.52,396.83 402.01,396.41 403.51,395.00 405.00,394.42 406.50,392.35 407.99,391.07 409.48,388.44 410.98,386.92 412.47,385.66 413.97,383.47 415.46,381.91 416.95,379.21 418.45,376.70 419.94,372.13 421.44,367.73 422.93,362.02 424.42,356.10 425.92,347.38 427.41,340.29 428.91,331.16 430.40,322.94 431.89,315.38 433.39,306.94 434.88,298.64 436.38,291.84 437.87,285.85 439.36,279.64 440.86,275.60 442.35,270.94 443.85,268.39 445.34,266.11 446.83,262.50 448.33,261.65 449.82,259.56 451.32,257.16 452.81,256.54 454.30,254.65 455.80,253.15 457.29,252.61 458.79,252.12 460.28,250.80 461.77,250.03 463.27,249.73 464.76,249.04 466.26,248.87 467.75,248.24 469.24,247.03 470.74,246.73 472.23,247.77 473.73,247.22 475.22,246.90 476.71,245.85 478.21,246.44 479.70,246.30 481.20,245.31 482.69,245.97 484.18,244.70 485.68,245.26 487.17,244.49 488.67,244.45 490.16,245.13 491.65,244.18 493.15,244.53 494.64,244.64 496.14,244.73 497.63,243.67 499.12,243.71 500.62,243.94 502.11,243.11 503.61,243.90 505.10,243.48 506.59,243.89 508.09,243.45 509.58,242.63 511.08,243.09 512.57,243.48 514.06,243.29 515.56,242.65 517.05,243.08 518.55,242.16 520.04,243.22" fill="none" stroke="#5a2a5e" stroke-width="1.35" stroke-linejoin="round"/>
<polyline points="340.76,410.49 342.25,410.83 343.75,410.41 345.24,411.14 346.74,411.55 348.23,411.30 349.72,410.44 351.22,411.39 352.71,411.17 354.21,409.93 355.70,409.68 357.19,409.61 358.69,409.50 360.18,409.82 361.68,409.09 363.17,409.22 364.66,409.28 366.16,409.33 367.65,409.84 369.15,409.55 370.64,409.10 372.13,408.54 373.63,408.89 375.12,407.10 376.62,407.36 378.11,406.60 379.60,405.84 381.10,406.48 382.59,404.82 384.09,404.14 385.58,404.75 387.07,404.40 388.57,402.64 390.06,401.88 391.56,401.45 393.05,401.54 394.54,400.62 396.04,400.89 397.53,400.11 399.03,399.22 400.52,398.07 402.01,398.53 403.51,396.18 405.00,396.48 406.50,393.28 407.99,392.80 409.48,390.00 410.98,388.19 412.47,386.14 413.97,385.07 415.46,382.52 416.95,380.66 418.45,376.69 419.94,374.25 421.44,368.22 422.93,362.73 424.42,356.52 425.92,347.13 427.41,339.94 428.91,331.93 430.40,323.09 431.89,314.89 433.39,305.66 434.88,295.91 436.38,286.51 437.87,278.92 439.36,271.62 440.86,266.19 442.35,262.09 443.85,259.33 445.34,257.06 446.83,255.42 448.33,253.42 449.82,252.95 451.32,251.12 452.81,251.02 454.30,249.83 455.80,249.16 457.29,248.29 458.79,248.37 460.28,247.44 461.77,245.95 463.27,246.10 464.76,244.81 466.26,244.01 467.75,244.85 469.24,243.77 470.74,244.28 472.23,243.62 473.73,244.24 475.22,243.75 476.71,243.76 478.21,244.47 479.70,243.78 481.20,243.54 482.69,243.60 484.18,243.13 485.68,242.56 487.17,242.62 488.67,242.46 490.16,243.48 491.65,242.39 493.15,242.40 494.64,241.74 496.14,243.23 497.63,242.81 499.12,241.30 500.62,242.22 502.11,241.53 503.61,241.61 505.10,241.85 506.59,241.70 508.09,241.41 509.58,240.60 511.08,241.30 512.57,240.78 514.06,241.54 515.56,240.76 517.05,240.87 518.55,240.55 520.04,240.24" fill="none" stroke="#c8143c" stroke-width="1.4" stroke-linejoin="round"/>
<path d="M438.6,364.7 H447" stroke="#2b5c8c" stroke-width="1.6"/>
<path d="M438.6,377.3 H447" stroke="#5a2a5e" stroke-width="1.6"/>
<path d="M438.6,397.0 H447" stroke="#c8143c" stroke-width="1.6"/>
<text x="449.10" y="367.40" font-size="7.3" text-anchor="start" fill="#231f20" font-weight="normal" stroke="#231f20" stroke-width="0.12" >All genes (14,395)</text>
<text x="449.10" y="380.00" font-size="7.3" text-anchor="start" fill="#231f20" font-weight="normal" stroke="#231f20" stroke-width="0.12" >RBM12 bound (566)</text>
<text x="449.10" y="387.70" font-size="7.3" text-anchor="start" fill="#231f20" font-weight="normal" stroke="#231f20" stroke-width="0.12" >p = 0.08138</text>
<text x="449.10" y="399.70" font-size="7.3" text-anchor="start" fill="#231f20" font-weight="normal" stroke="#231f20" stroke-width="0.12" >5'UTR bound (270)</text>
<text x="449.10" y="407.10" font-size="7.3" text-anchor="start" fill="#231f20" font-weight="normal" stroke="#231f20" stroke-width="0.12" >p = 0.0199</text>
</svg>
</body></html>
